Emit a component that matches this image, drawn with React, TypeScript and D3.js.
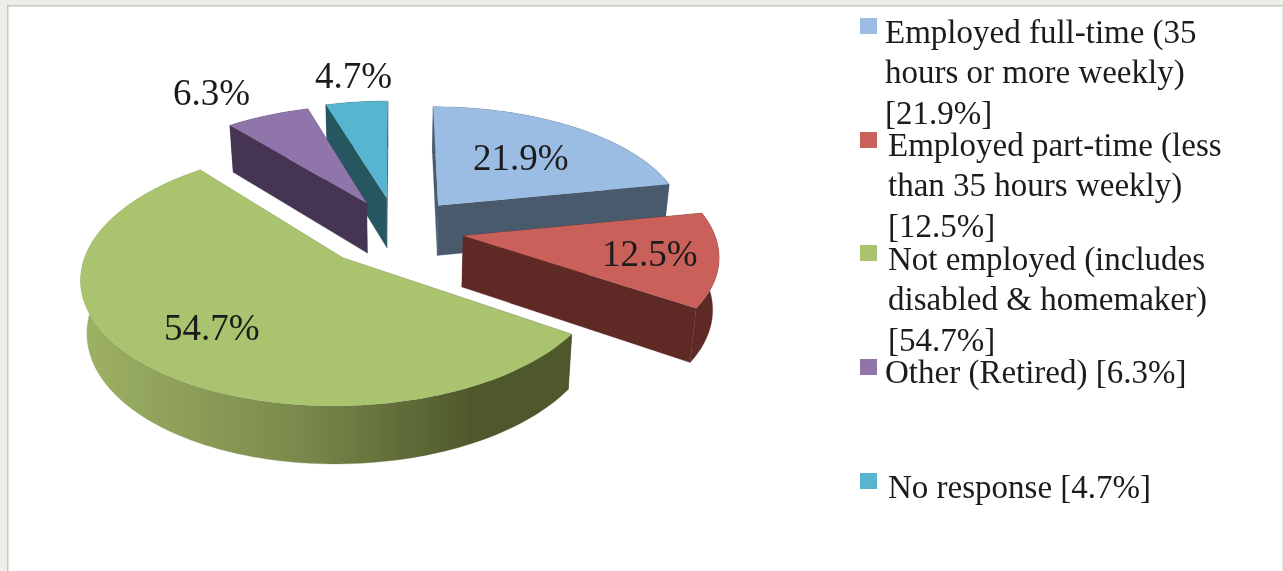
import React from "react";
import * as d3 from "d3";

// ---- data
const categories = ["Employed full-time", "Employed part-time", "Not employed", "Other (Retired)", "No response"];
const shares = [21.9, 12.5, 54.7, 6.3, 4.7];
const sliceLabels = ["21.9%", "12.5%", "54.7%", "6.3%", "4.7%"];
const legendLines = [
  ["Employed full-time (35", "hours or more weekly)", "[21.9%]"],
  ["Employed part-time (less", "than 35 hours weekly)", "[12.5%]"],
  ["Not employed (includes", "disabled & homemaker)", "[54.7%]"],
  ["Other (Retired) [6.3%]"],
  ["No response [4.7%]"],
];

// ---- style and layout
const W = 1283, H = 571;
const topColors = ["#9bbde3", "#c9615a", "#a9c36e", "#8f74aa", "#58b5cf"];
const wallColors = ["#4a5a6c", "#5f2b28", "url(#greenWall)", "#453552", "#25565f"];
const explode = [0.27, 0.27, 0.31, 0.26, 0.278];
const labelAnchor: [number, number][] = [[473, 170], [602, 266], [164, 340], [173, 105], [315, 88]];
const legendX = [885, 888, 888, 885, 888];
const legendBase = [43, 156, 270, 383, 498];
const swatchY = [18, 132, 245, 359, 473];
const cx = 396.5, cy = 229.5, rx = 250, ry = 118.7, persp = 0.14;
const depth = 51;

// Ground-plane point -> screen, level 0 = top face, 1 = bottom face
function project(X: number, Y: number, level: number): [number, number] {
  const d = 1 + persp * Y;
  const x = cx + (X * rx) / d;
  const y = cy - (Y * ry) / d;
  if (!level) return [x, y];
  return [cx + (x - cx) * 0.98, y + depth + (y - cy) * 0.04];
}

const pie = d3.pie<number>().sort(null).value((d) => d).startAngle(0).endAngle(2 * Math.PI);
const line = d3.line<[number, number]>();

const slices = pie(shares).map((a, i) => {
  const mid = (a.startAngle + a.endAngle) / 2;
  const ax = explode[i] * Math.sin(mid);
  const ay = explode[i] * Math.cos(mid);
  const n = Math.max(4, Math.ceil((a.endAngle - a.startAngle) * 40));
  const rim = d3.range(n + 1).map((k) => {
    const t = a.startAngle + ((a.endAngle - a.startAngle) * k) / n;
    return [ax + Math.sin(t), ay + Math.cos(t)] as [number, number];
  });
  const ring = (lv: number) => rim.map((p) => project(p[0], p[1], lv));
  const apexTop = project(ax, ay, 0);
  const apexBottom = project(ax, ay, 1);
  const top = ring(0);
  const bottom = ring(1);
  const walls: [number, number][][] = [
    [...top, ...bottom.slice().reverse()],
    [apexTop, top[0], bottom[0], apexBottom],
    [apexTop, top[n], bottom[n], apexBottom],
  ];
  return { i, top: [apexTop, ...top], walls };
});

const drawOrder = [4, 3, 0, 2, 1];

export default function App() {
  return (
    <svg
      width={W}
      height={H}
      viewBox={`0 0 ${W} ${H}`}
      style={{ position: "absolute", left: 0, top: 0, display: "block" }}
      fontFamily="'Liberation Serif', serif"
    >
      <defs>
        <linearGradient id="greenWall" gradientUnits="userSpaceOnUse" x1={85} x2={470} y1={0} y2={0}>
          <stop offset="0" stopColor="#9db164" />
          <stop offset="0.55" stopColor="#7a8a4c" />
          <stop offset="1" stopColor="#50592c" />
        </linearGradient>
        <filter id="soft" x="-5%" y="-5%" width="110%" height="110%">
          <feGaussianBlur stdDeviation="0.45" />
        </filter>
      </defs>
      <rect x={0} y={0} width={W} height={H} fill="#eeeee8" />
      <rect x={7} y={5} width={W - 7} height={H - 5} fill="#c8c8c0" />
      <rect x={8.5} y={6.5} width={W - 9} height={H - 6} fill="#ffffff" />

      <g filter="url(#soft)">
        {drawOrder.map((idx) => {
          const s = slices[idx];
          return (
            <g key={categories[idx]}>
              {s.walls.map((w, k) => (
                <path key={k} d={line(w) + "Z"} fill={wallColors[idx]} stroke={wallColors[idx]} strokeWidth={0.3} />
              ))}
              <path d={line(s.top) + "Z"} fill={topColors[idx]} />
            </g>
          );
        })}
      </g>

      <g filter="url(#soft)" fontSize={37} fill="#1a1a1a">
        {sliceLabels.map((t, i) => (
          <text key={t} x={labelAnchor[i][0]} y={labelAnchor[i][1]}>{t}</text>
        ))}
      </g>

      <g filter="url(#soft)">
        {legendLines.map((lines, i) => (
          <g key={i}>
            <rect x={860} y={swatchY[i]} width={17} height={16} fill={topColors[i]} />
            <text fontSize={33} fill="#1a1a1a">
              {lines.map((l, j) => (
                <tspan key={l} x={legendX[i]} y={legendBase[i] + j * 40.3}>{l}</tspan>
              ))}
            </text>
          </g>
        ))}
      </g>
    </svg>
  );
}
